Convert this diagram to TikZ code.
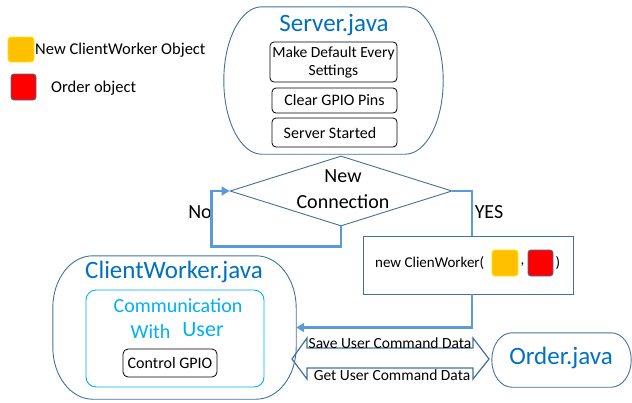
\documentclass[tikz,border=0pt]{standalone}
\usepackage{fontspec}
\setmainfont{Carlito}
\usetikzlibrary{shapes.geometric,arrows.meta}
\definecolor{outl}{HTML}{41719C}
\definecolor{flowc}{HTML}{5B9BD5}
\definecolor{titc}{HTML}{0070C0}
\definecolor{lblue}{HTML}{00B0F0}
\definecolor{ylw}{HTML}{FFC000}
\definecolor{ybord}{HTML}{FFE600}
\newcommand{\fsz}[2]{\fontsize{#1}{#2}\selectfont}
% outline with elliptical corners around an (invisible) node
\newcommand{\stad}[4]{%
  \draw[#4] ([xshift=#2]#1.north west) -- ([xshift=-#2]#1.north east)
    arc[start angle=90,end angle=0,x radius=#2,y radius=#3]
    -- ([yshift=#3]#1.south east)
    arc[start angle=0,end angle=-90,x radius=#2,y radius=#3]
    -- ([xshift=#2]#1.south west)
    arc[start angle=270,end angle=180,x radius=#2,y radius=#3]
    -- ([yshift=-#3]#1.north west)
    arc[start angle=180,end angle=90,x radius=#2,y radius=#3] -- cycle;}
\begin{document}
\begin{tikzpicture}[x=1pt,y=-1pt,
  holder/.style={rectangle,inner sep=0pt},
  bigline/.style={draw=outl,line width=0.9pt},
  title/.style={text=titc,font=\fsz{25}{29}},
  subbox/.style={draw=black,line width=0.8pt,rounded corners=4pt,inner sep=1pt,align=center},
  plain/.style={inner sep=0pt},
  flow/.style={draw=flowc,line width=2.5pt},
  tipa/.style={-{Triangle[length=8pt,width=9pt]}},
  legsq/.style={rounded corners=3pt,line width=0.9pt,inner sep=0pt}]
\useasboundingbox (0,0) rectangle (632,402);

% legend
\node[legsq,fill=ylw,draw=ybord,minimum width=26pt,minimum height=25pt] (ysq) at (21,49.5) {};
\node[plain,anchor=west,font=\fsz{16.5}{20}] (ylab) at (35,50) {New ClientWorker Object};
\node[legsq,fill=red,draw=outl,minimum width=25pt,minimum height=26pt] (rsq) at (23.5,87) {};
\node[plain,anchor=west,font=\fsz{16.5}{20}] (rlab) at (51,88) {Order object};

% Server.java
\node[holder,minimum width=219pt,minimum height=147pt] (srv) at (333.5,80.5) {};
\stad{srv}{38pt}{73.5pt}{bigline}
\node[title] (srvt) at (334,25) {Server.java};
\node[subbox,minimum width=127pt,minimum height=40pt,font=\fsz{15.5}{18}] (mk) at (333.5,62) {Make Default Every\\Settings};
\node[subbox,minimum width=125pt,minimum height=25pt,font=\fsz{16}{19}] (cg) at (334.5,100.5) {Clear GPIO Pins};
\node[subbox,minimum width=125pt,minimum height=29pt] (ss) at (334.5,132.5) {};
\node[plain,font=\fsz{16}{19}] (sst) at (330,133) {Server Started};

% decision
\node[diamond,draw=outl,line width=0.9pt,inner sep=0pt,minimum width=222pt,minimum height=70pt] (dia) at (341,191) {};
\node[plain,font=\fsz{20}{24}] (d1) at (343,176) {New};
\node[plain,font=\fsz{20}{24}] (d2) at (343,202) {Connection};
\node[plain,font=\fsz{20}{24}] (no) at (200,212) {No};
\node[plain,font=\fsz{20}{24}] (yes) at (489,212) {YES};

% new ClienWorker box
\node[draw=outl,line width=0.9pt,fill=white,minimum width=210pt,minimum height=58pt] (nb) at (468,265) {};
\node[plain,anchor=west,font=\fsz{15}{18}] (nbt) at (375,263) {new ClienWorker(};
\node[legsq,fill=ylw,draw=ybord,minimum width=26pt,minimum height=26pt] (nby) at (505,263) {};
\node[plain,font=\fsz{15}{18}] (nbc) at (522.5,265) {,};
\node[legsq,fill=red,draw=outl,minimum width=25pt,minimum height=26pt] (nbr) at (540.5,263) {};
\node[plain,font=\fsz{15}{18}] (nbp) at (558,263) {)};

% ClientWorker.java
\node[holder,minimum width=243pt,minimum height=143pt] (cw) at (174.5,327.5) {};
\stad{cw}{40pt}{52pt}{bigline}
\node[title] (cwt) at (174,272) {ClientWorker.java};
\node[draw=lblue,line width=0.9pt,rounded corners=10pt,minimum width=178pt,minimum height=97pt] (comm) at (175,338.5) {};
\node[plain,text=lblue,font=\fsz{20}{24}] (c1) at (178,306) {Communication};
\node[plain,text=lblue,font=\fsz{20}{24}] (c2) at (150.5,332) {With};
\node[plain,text=lblue,font=\fsz{22}{26}] (c3) at (203,330) {User};
\node[subbox,minimum width=94pt,minimum height=28pt,rounded corners=5pt,font=\fsz{16}{19}] (gpio) at (170,363) {Control GPIO};

% Order.java
\node[holder,minimum width=139pt,minimum height=54pt] (ord) at (561.5,360) {};
\stad{ord}{20pt}{27pt}{bigline}
\node[title] (ordt) at (561,358) {Order.java};

% connectors
\draw[flow,tipa] (dia.south) -- ++(0,20) -| ([xshift=-18pt]dia.west) -- (dia.west);
\draw[flow] (dia.east) -| ([xshift=4pt]nb.north);
\draw[flow,tipa] ([xshift=4pt]nb.south) |- (cw.east);

% double block arrow
\coordinate (dal) at (292,359);
\coordinate (dar) at (489,359);
\draw[draw=outl,line width=1.2pt,line join=miter]
  (dal) -- (307,338) -- (307,348) -- (473,348) -- (473,338) -- (dar)
  -- (473,379) -- (473,368) -- (307,368) -- (307,379) -- cycle;
\node[plain,font=\fsz{15.5}{18}] (sv) at (390,343) {Save User Command Data};
\node[plain,font=\fsz{15.5}{18}] (gt) at (392,375) {Get User Command Data};
\end{tikzpicture}
\end{document}
